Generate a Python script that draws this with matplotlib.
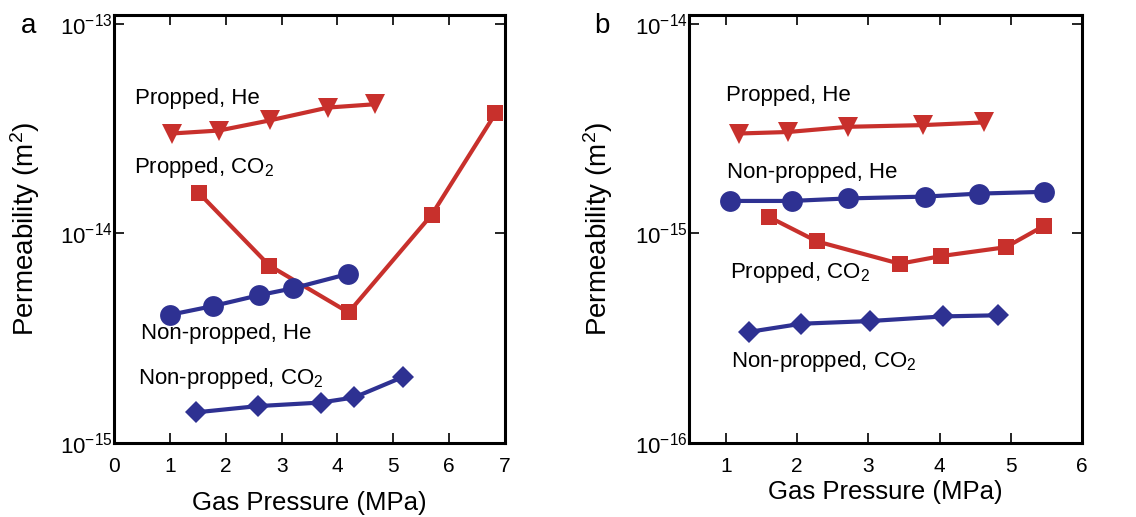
import numpy as np
import matplotlib
matplotlib.use('Agg')
import matplotlib.pyplot as plt

plt.rcParams['font.family'] = ['Liberation Sans', 'DejaVu Sans']
plt.rcParams['mathtext.fontset'] = 'custom'
plt.rcParams['mathtext.rm'] = 'Liberation Sans'
plt.rcParams['mathtext.it'] = 'Liberation Sans:italic'
plt.rcParams['mathtext.bf'] = 'Liberation Sans:bold'

RED = '#c8302c'
BLUE = '#2e3192'

# ---- panel a ----
a_ph_x = [1.03, 1.88, 2.80, 3.83, 4.68]
a_ph_y = [3.0e-14, 3.1e-14, 3.47e-14, 3.99e-14, 4.14e-14]
a_pc_x = [1.52, 2.78, 4.20, 5.69, 6.83]
a_pc_y = [1.56e-14, 7.03e-15, 4.2e-15, 1.23e-14, 3.74e-14]
a_nh_x = [1.00, 1.78, 2.59, 3.21, 4.19]
a_nh_y = [4.09e-15, 4.51e-15, 5.07e-15, 5.48e-15, 6.41e-15]
a_nc_x = [1.46, 2.57, 3.70, 4.30, 5.18]
a_nc_y = [1.40e-15, 1.50e-15, 1.56e-15, 1.65e-15, 2.07e-15]
a_yticks = [1e-15, 1e-14, 1e-13]

# ---- panel b ----
b_ph_x = [1.18, 1.87, 2.72, 3.76, 4.63]
b_ph_y = [3.0e-15, 3.05e-15, 3.23e-15, 3.29e-15, 3.39e-15]
b_nh_x = [1.06, 1.92, 2.71, 3.80, 4.55, 5.46]
b_nh_y = [1.43e-15, 1.43e-15, 1.47e-15, 1.50e-15, 1.55e-15, 1.58e-15]
b_pc_x = [1.60, 2.28, 3.44, 4.02, 4.93, 5.47]
b_pc_y = [1.2e-15, 9.16e-16, 7.17e-16, 7.8e-16, 8.6e-16, 1.09e-15]
b_nc_x = [1.32, 2.06, 3.02, 4.05, 4.82]
b_nc_y = [3.39e-16, 3.71e-16, 3.82e-16, 4.02e-16, 4.07e-16]
b_yticks = [1e-16, 1e-15, 1e-14]

fig = plt.figure(figsize=(11.36, 5.17), dpi=100)
ax1 = fig.add_axes([0.1004, 0.1431, 0.3441, 0.828])
ax2 = fig.add_axes([0.6065, 0.1431, 0.346, 0.828])

lw = 3.0
def series(ax, x, y, color, marker, ms):
    ax.plot(x, y, color=color, lw=lw, marker=marker, ms=ms,
            markeredgewidth=0, zorder=3)

series(ax1, a_ph_x, a_ph_y, RED, 'v', 14)
series(ax1, a_pc_x, a_pc_y, RED, 's', 11)
series(ax1, a_nh_x, a_nh_y, BLUE, 'o', 15)
series(ax1, a_nc_x, a_nc_y, BLUE, 'D', 11)

series(ax2, b_ph_x, b_ph_y, RED, 'v', 14)
series(ax2, b_nh_x, b_nh_y, BLUE, 'o', 15)
series(ax2, b_pc_x, b_pc_y, RED, 's', 11)
series(ax2, b_nc_x, b_nc_y, BLUE, 'D', 11)

fs_ann = 16
ax1.text(0.38, 4.43e-14, 'Propped, He', fontsize=fs_ann, va='center')
ax1.text(0.36, 2.07e-14, 'Propped, CO$_2$', fontsize=fs_ann, va='center')
ax1.text(0.48, 3.34e-15, 'Non-propped, He', fontsize=fs_ann, va='center')
ax1.text(0.42, 2.04e-15, 'Non-propped, CO$_2$', fontsize=fs_ann, va='center')

ax2.text(1.00, 4.54e-15, 'Propped, He', fontsize=fs_ann, va='center')
ax2.text(1.01, 1.96e-15, 'Non-propped, He', fontsize=fs_ann, va='center')
ax2.text(1.06, 6.54e-16, 'Propped, CO$_2$', fontsize=fs_ann, va='center')
ax2.text(1.07, 2.46e-16, 'Non-propped, CO$_2$', fontsize=fs_ann, va='center')

for ax in (ax1, ax2):
    ax.set_yscale('log')
    ax.yaxis.set_minor_locator(matplotlib.ticker.NullLocator())
    ax.tick_params(direction='in', top=True, right=True, length=7, width=1.2,
                   labelsize=15)
    ax.tick_params(axis='x', pad=10)
    ax.tick_params(axis='y', pad=1, labelsize=16)
    for s in ax.spines.values():
        s.set_linewidth(2.2)
    ax.set_ylabel('Permeability (m$^2$)', fontsize=20)

ax1.set_yticks(a_yticks)
ax2.set_yticks(b_yticks)
ax1.yaxis.set_minor_locator(matplotlib.ticker.NullLocator())
ax2.yaxis.set_minor_locator(matplotlib.ticker.NullLocator())
ax1.set_xlim(0, 7)
ax1.set_ylim(1e-15, 10 ** -12.957)
ax2.set_xlim(0.48, 6)
ax2.set_ylim(1e-16, 10 ** -13.957)

ax1.set_xticks(range(0, 8))
ax2.set_xticks(range(1, 7))
ax1.set_xlabel('Gas Pressure (MPa)', fontsize=18.5, labelpad=11)
ax2.set_xlabel('Gas Pressure (MPa)', fontsize=18.5, labelpad=3)
ax1.yaxis.set_label_coords(-0.184, 0.5)
ax2.yaxis.set_label_coords(-0.188, 0.5)

fig.text(0.025, 0.95, 'a', fontsize=20, va='center', ha='center')
fig.text(0.53, 0.95, 'b', fontsize=20, va='center', ha='center')

fig.savefig('out.png', dpi=100)
